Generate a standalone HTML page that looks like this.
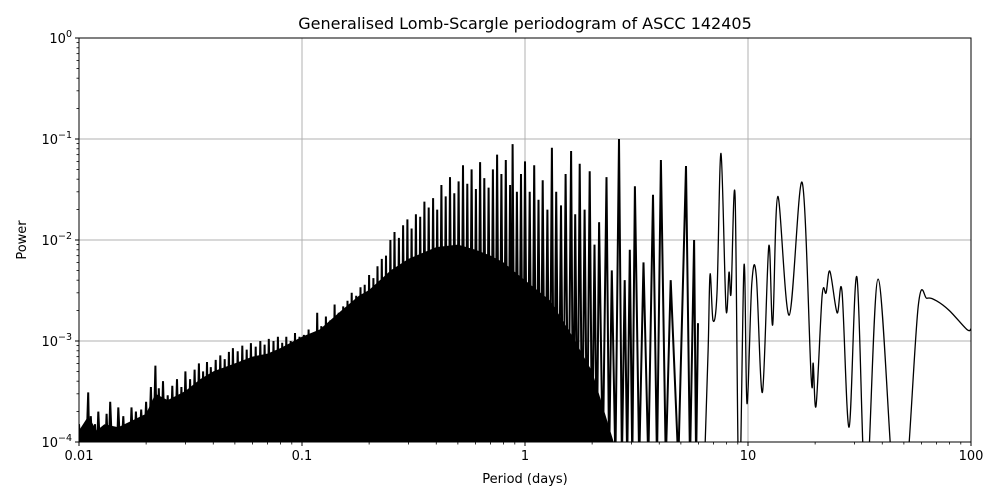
<!DOCTYPE html>
<html><head><meta charset="utf-8"><style>
html,body{margin:0;padding:0;background:#fff;width:1000px;height:500px;overflow:hidden}
svg text{font-family:"DejaVu Sans","Liberation Sans",sans-serif;fill:#000}
</style></head><body>
<svg id="chart" width="1000" height="500" viewBox="0 0 1000 500" xmlns="http://www.w3.org/2000/svg">
<text x="525" y="29" text-anchor="middle" font-size="16">Generalised Lomb-Scargle periodogram of ASCC 142405</text>
<text x="525" y="483" text-anchor="middle" font-size="13">Period (days)</text>
<text transform="translate(26,240) rotate(-90)" text-anchor="middle" font-size="13">Power</text>
<defs><clipPath id="clip"><rect x="79" y="38" width="892" height="404"/></clipPath></defs>
<g id="grid"></g>
<g id="fillg" clip-path="url(#clip)"></g>
<g id="lines" clip-path="url(#clip)"></g>
<rect x="79" y="38" width="892" height="404" fill="none" stroke="#000" stroke-width="1"/>
<g id="ticks"></g>
</svg>
<script>
const xTicks=[0.01,0.1,1,10,100];
const xTickLabels=["0.01","0.1","1","10","100"];
const yTicks=[1e-4,1e-3,1e-2,1e-1,1];
const yTickExps=["−4","−3","−2","−1","0"];
const spikePeriods=[0.0100,0.0105,0.0110,0.0113,0.0118,0.0122,0.0128,0.0133,0.0138,0.0145,0.0150,0.0158,0.0165,0.0172,0.0180,0.0190,0.0200,0.0210,0.0220,0.0228,0.0238,0.0250,0.0262,0.0275,0.0288,0.0300,0.0315,0.0330,0.0345,0.0360,0.0375,0.0390,0.0410,0.0430,0.0450,0.0470,0.0490,0.0515,0.0540,0.0565,0.0590,0.0620,0.0650,0.0680,0.0710,0.0745,0.0780,0.0815,0.0850,0.0890,0.0930,0.0975,0.102,0.107,0.112,0.117,0.122,0.128,0.134,0.140,0.146,0.153,0.160,0.167,0.175,0.183,0.191,0.200,0.209,0.218,0.228,0.238,0.249,0.260,0.272,0.284,0.297,0.310,0.324,0.339,0.354,0.370,0.387,0.404,0.422,0.441,0.461,0.482,0.504,0.527,0.551,0.576,0.602,0.629,0.657,0.687,0.718,0.750,0.784,0.820,0.857,0.880,0.920,0.960,1.00,1.05,1.10,1.15,1.20,1.26,1.32,1.38,1.45,1.52,1.61,1.68,1.76,1.85,1.95,2.05,2.15,2.32,2.45,2.64,2.80,2.95,3.11,3.40,3.75,4.07,4.50,5.27,5.73,5.97];
const spikePowers=[1.5e-4,1.2e-4,3.1e-4,1.8e-4,1.5e-4,2.0e-4,1.3e-4,1.9e-4,2.5e-4,1.4e-4,2.2e-4,1.8e-4,1.4e-4,2.2e-4,2.0e-4,2.1e-4,2.5e-4,3.5e-4,5.7e-4,3.4e-4,4.0e-4,2.9e-4,3.6e-4,4.2e-4,3.5e-4,5.0e-4,4.2e-4,5.2e-4,6.0e-4,5.0e-4,6.2e-4,5.5e-4,6.5e-4,7.2e-4,6.6e-4,7.8e-4,8.5e-4,7.9e-4,9.0e-4,8.2e-4,9.5e-4,8.8e-4,1.0e-3,9.2e-4,1.05e-3,1.0e-3,1.1e-3,9.6e-4,1.1e-3,1.0e-3,1.2e-3,1.1e-3,1.15e-3,1.3e-3,1.2e-3,1.9e-3,1.4e-3,1.75e-3,1.6e-3,2.3e-3,1.9e-3,2.2e-3,2.5e-3,3.0e-3,2.8e-3,3.4e-3,3.6e-3,4.5e-3,4.2e-3,5.5e-3,6.5e-3,7.0e-3,1.0e-2,1.2e-2,1.05e-2,1.4e-2,1.6e-2,1.3e-2,1.8e-2,1.7e-2,2.4e-2,2.1e-2,2.6e-2,2.0e-2,3.5e-2,2.7e-2,4.2e-2,2.9e-2,3.8e-2,5.5e-2,3.6e-2,5.0e-2,3.2e-2,5.9e-2,4.1e-2,3.3e-2,5.0e-2,7.0e-2,4.5e-2,6.2e-2,3.5e-2,8.9e-2,3.0e-2,4.5e-2,6.0e-2,3.0e-2,5.5e-2,2.5e-2,3.9e-2,2.0e-2,8.2e-2,3.0e-2,2.2e-2,4.5e-2,7.6e-2,1.8e-2,5.7e-2,2.0e-2,4.8e-2,9.0e-3,1.5e-2,4.2e-2,5.0e-3,0.1,4.0e-3,8.0e-3,3.4e-2,6.0e-3,2.8e-2,6.2e-2,4.0e-3,5.4e-2,1.0e-2,1.5e-3];
const fillPeriods=[0.01,0.011,0.012,0.013,0.015,0.017,0.02,0.022,0.025,0.03,0.035,0.04,0.05,0.06,0.07,0.08,0.1,0.12,0.15,0.18,0.2,0.25,0.3,0.35,0.4,0.5,0.6,0.7,0.8,1.0,1.3,1.6,2.0,2.5];
const fillPowers=[1.3e-4,1.8e-4,1.3e-4,1.5e-4,1.4e-4,1.6e-4,1.9e-4,3.0e-4,2.6e-4,3.2e-4,4.2e-4,5.0e-4,6.0e-4,7.0e-4,7.5e-4,8.5e-4,1.1e-3,1.3e-3,2.0e-3,2.8e-3,3.2e-3,5e-3,6.5e-3,7.5e-3,8.5e-3,9e-3,8e-3,7e-3,6e-3,4e-3,2.5e-3,1.2e-3,5e-4,1e-4];
const smoothPeriods=[6.3,6.62,6.76,6.97,7.26,7.57,7.97,8.22,8.4,8.75,9.12,9.6,9.9,10.4,10.9,11.6,12.4,12.9,13.6,15.3,17.5,19.2,19.6,20.2,21.5,22.4,23.3,25.1,26.4,28.4,30.8,33.8,38.3,45.2,50.6,58,63.5,70,80,95.9,100];
const smoothPowers=[1e-5,8e-4,4.6e-3,1.6e-3,3.0e-3,0.072,2.1e-3,4.8e-3,3.0e-3,0.027,1e-5,5.6e-3,2.4e-4,3.7e-3,4.4e-3,3.1e-4,8.7e-3,1.45e-3,0.027,1.8e-3,0.037,4.3e-4,6e-4,2.3e-4,2.8e-3,3e-3,4.9e-3,1.9e-3,3.1e-3,1.4e-4,4.3e-3,3e-5,4.1e-3,3e-5,3e-5,2.2e-3,2.65e-3,2.5e-3,2.0e-3,1.3e-3,1.32e-3];

const X0=79,X1=971,Y0=38,Y1=442;
const xs=p=>X0+(Math.log10(p)+2)/4*(X1-X0);
const ys=v=>Y0+(-Math.log10(Math.max(v,1e-6)))/4*(Y1-Y0);
const NS='http://www.w3.org/2000/svg';
function mk(tag,attrs,parent){const e=document.createElementNS(NS,tag);for(const k in attrs)e.setAttribute(k,attrs[k]);parent.appendChild(e);return e;}
const grid=document.getElementById('grid'),ticks=document.getElementById('ticks');
xTicks.forEach((t,i)=>{const x=xs(t);
 if(i>0&&i<xTicks.length-1){const g=mk('line',{x1:x,x2:x,y1:Y0,y2:Y1,stroke:'#b0b0b0','stroke-width':1},grid);
 
 }
 const tk=mk('line',{x1:x,x2:x,y1:Y1,y2:Y1+4,stroke:'#000'},ticks);
 
 
 const tx=mk('text',{x:x,y:Y1+18,'text-anchor':'middle','font-size':13},ticks);tx.textContent=xTickLabels[i];
 
 
 if(i<xTicks.length-1){for(let m=2;m<10;m++){const xm=xs(t*m);const mt=mk('line',{x1:xm,x2:xm,y1:Y1,y2:Y1+2.5,stroke:'#000','stroke-width':0.8},ticks);
 
 }}
});
yTicks.forEach((t,i)=>{const y=ys(t);
 if(i>0&&i<yTicks.length-1){const g=mk('line',{x1:X0,x2:X1,y1:y,y2:y,stroke:'#b0b0b0','stroke-width':1},grid);
 
 }
 const tk=mk('line',{x1:X0-4,x2:X0,y1:y,y2:y,stroke:'#000'},ticks);
 
 
 const tx=mk('text',{x:X0-7,y:y+5,'text-anchor':'end','font-size':13},ticks);
 
 
 const b=mk('tspan',{},tx);b.textContent='10';const s=mk('tspan',{dy:-6,'font-size':9.5},tx);s.textContent=yTickExps[i];
 if(i<yTicks.length-1){for(let m=2;m<10;m++){const ym=ys(t*m);const mt=mk('line',{x1:X0-2.5,x2:X0,y1:ym,y2:ym,stroke:'#000','stroke-width':0.8},ticks);
 
 }}
});
let d='M'+xs(fillPeriods[0])+','+(Y1+5);
fillPeriods.forEach((p,i)=>{d+=' L'+xs(p).toFixed(1)+','+ys(fillPowers[i]).toFixed(1);});
d+=' L'+xs(fillPeriods[fillPeriods.length-1]).toFixed(1)+','+(Y1+5)+'Z';
const fp=mk('path',{d:d,fill:'#000'},document.getElementById('fillg'));


const lines=document.getElementById('lines');
let sd='';
spikePeriods.forEach((p,i)=>{const x=xs(p),y=ys(spikePowers[i]);
 const xPrev=i>0?xs(spikePeriods[i-1]):x-3;const xt=(x+xPrev)/2;
 sd+=(i===0?'M':' L')+xt.toFixed(1)+','+(Y1+20)+' L'+x.toFixed(1)+','+y.toFixed(1);});
const sp=mk('path',{d:sd,fill:'none',stroke:'#000','stroke-width':2,'stroke-linejoin':'miter'},lines);


const pts=smoothPeriods.map((p,i)=>[xs(p),Math.min(ys(smoothPowers[i]),Y1+60)]);
let cd='M'+pts[0][0].toFixed(1)+','+pts[0][1].toFixed(1);
for(let i=0;i<pts.length-1;i++){const p0=pts[Math.max(i-1,0)],p1=pts[i],p2=pts[i+1],p3=pts[Math.min(i+2,pts.length-1)];
 const c1=[p1[0]+(p2[0]-p0[0])/6,p1[1]+(p2[1]-p0[1])/6],c2=[p2[0]-(p3[0]-p1[0])/6,p2[1]-(p3[1]-p1[1])/6];
 cd+=' C'+c1[0].toFixed(1)+','+c1[1].toFixed(1)+' '+c2[0].toFixed(1)+','+c2[1].toFixed(1)+' '+p2[0].toFixed(1)+','+p2[1].toFixed(1);}
const cp=mk('path',{d:cd,fill:'none',stroke:'#000','stroke-width':1.3},lines);


</script>
</body></html>
